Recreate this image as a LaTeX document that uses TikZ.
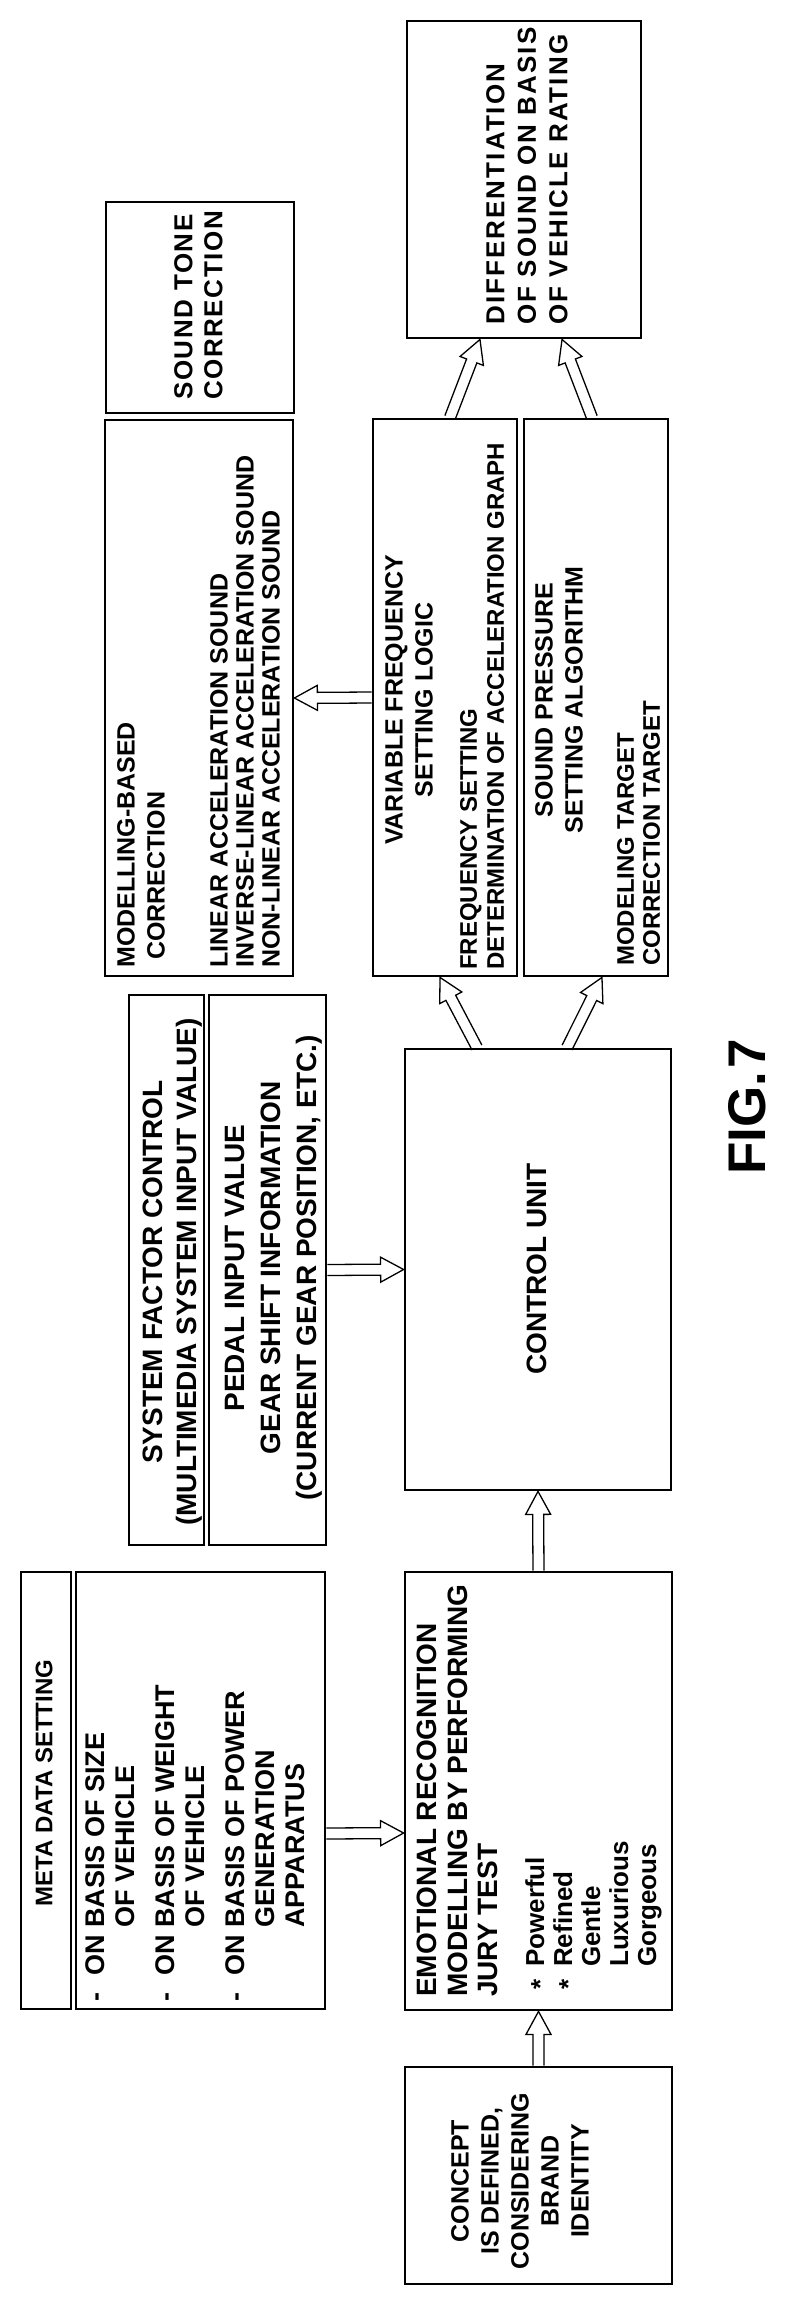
\documentclass[tikz,border=0pt]{standalone}
\usepackage{fontspec}
\setmainfont{Liberation Sans}
\newfontfamily\spA{Liberation Sans}[LetterSpace=8]
\newfontfamily\spB{Liberation Sans}[LetterSpace=6]
\usetikzlibrary{calc}
\newcommand\fs[2]{\fontsize{#1pt}{#2pt}\selectfont\bfseries}
\newcommand\harrow[2]{%
  \path let \p1=($(#2)-(#1)$), \n1={atan2(\y1,\x1)}, \n2={veclen(\x1,\y1)} in
    \pgfextra{\xdef\hang{\n1}\xdef\hlen{\n2}};
  \begin{scope}[shift={(#1)}, rotate=\hang, x=1pt, y=1pt]
    \draw[arr] (0,-5.5) -- (\hlen-23,-5.5) -- (\hlen-23,-12.5) -- (\hlen,0)
      -- (\hlen-23,12.5) -- (\hlen-23,5.5) -- (0,5.5);
  \end{scope}}
\begin{document}
\begin{tikzpicture}[x=1pt,y=-1pt,
  box/.style={draw, line width=2.8pt, inner sep=0pt},
  arr/.style={line width=1.3pt, line join=miter},
  txt/.style={rotate=90, inner sep=0pt, align=left, anchor=north west},
  ctxt/.style={rotate=90, inner sep=0pt, align=center}]
\useasboundingbox (0,0) rectangle (786,2306);
% boxes
\node[box, minimum width=234pt, minimum height=317pt] (diff) at (524,179.5) {};
\node[box, minimum width=188pt, minimum height=211pt] (tone) at (200,307.5) {};
\node[box, minimum width=188pt, minimum height=556pt] (model) at (199,698) {};
\node[box, minimum width=144pt, minimum height=557pt] (vf) at (445,697.5) {};
\node[box, minimum width=144pt, minimum height=557pt] (sp) at (596,697.5) {};
\node[box, minimum width=75pt, minimum height=550pt] (sys) at (166.5,1270) {};
\node[box, minimum width=117pt, minimum height=550pt] (pedal) at (267.5,1270) {};
\node[box, minimum width=266pt, minimum height=441pt] (ctrl) at (538,1269.5) {};
\node[box, minimum width=50pt, minimum height=437pt] (metah) at (46,1790.5) {};
\node[box, minimum width=249pt, minimum height=437pt] (metac) at (200.5,1790.5) {};
\node[box, minimum width=267pt, minimum height=438pt] (emo) at (538.5,1791) {};
\node[box, minimum width=267pt, minimum height=217pt] (concept) at (538.5,2175.5) {};
% texts
\node[txt, font=\spA\fs{26}{31.5}] (tdiff) at (486,325) {DIFFERENTIATION\\OF SOUND ON BASIS\\OF VEHICLE RATING};
\node[txt, font=\spB\fs{26}{30}] (ttone) at (174,400) {SOUND TONE\\CORRECTION};
\node[txt, font=\fs{25}{26}] (tmodel) at (117,968) {MODELLING-BASED\\[4pt]\hspace*{8pt}CORRECTION\\[37pt]LINEAR ACCELERATION SOUND\\INVERSE-LINEAR ACCELERATION SOUND\\NON-LINEAR ACCELERATION SOUND};
\node[ctxt, anchor=north, font=\fs{25}{30}] (tvf) at (385,700) {VARIABLE FREQUENCY\\SETTING LOGIC};
\node[txt, font=\fs{24}{27}] (tvf2) at (460,970) {FREQUENCY SETTING\\DETERMINATION OF ACCELERATION GRAPH};
\node[ctxt, anchor=north, font=\fs{25}{30}] (tsp) at (535,700) {SOUND PRESSURE\\SETTING ALGORITHM};
\node[txt, font=\fs{24}{26}] (tsp2) at (617,966) {MODELING TARGET\\CORRECTION TARGET};
\node[ctxt, anchor=north, font=\fs{28}{34}] (tsys) at (143,1272) {SYSTEM FACTOR CONTROL\\(MULTIMEDIA SYSTEM INPUT VALUE)};
\node[ctxt, anchor=north, font=\fs{28}{36}] (tpedal) at (225,1268) {PEDAL INPUT VALUE\\GEAR SHIFT INFORMATION\\(CURRENT GEAR POSITION, ETC.)};
\node[ctxt, font=\fs{24}{28}] (tmetah) at (44,1783) {META DATA SETTING};
\node[txt, font=\fs{27}{30}] (tmetac) at (85,2002) {\makebox[26pt][l]{-}ON BASIS OF SIZE\\\hspace*{26pt}\phantom{ON }OF VEHICLE\\[10pt]
\makebox[26pt][l]{-}ON BASIS OF WEIGHT\\\hspace*{26pt}\phantom{ON }OF VEHICLE\\[10pt]
\makebox[26pt][l]{-}ON BASIS OF POWER\\\hspace*{26pt}\phantom{ON }GENERATION\\\hspace*{26pt}\phantom{ON }APPARATUS};
\node[txt, font=\fs{28}{30.5}] (temo) at (417,1997) {EMOTIONAL RECOGNITION\\MODELLING BY PERFORMING\\JURY TEST};
\node[txt, font=\fs{26}{28}] (temo2) at (525,1990) {\makebox[23pt][l]{\raisebox{-5pt}{*}}Powerful\\\makebox[23pt][l]{\raisebox{-5pt}{*}}Refined\\\hspace*{23pt}Gentle\\\hspace*{23pt}Luxurious\\\hspace*{23pt}Gorgeous};
\node[ctxt, font=\fs{25}{30}] (tconcept) at (520,2181) {CONCEPT\\IS DEFINED,\\CONSIDERING\\BRAND\\IDENTITY};
\node[ctxt, font=\fs{28}{30}] (tctrl) at (537,1269) {CONTROL UNIT};
\node[ctxt, font=\fs{53}{60}] (fig) at (747,1107) {FIG.\kern3pt 7};
% connector end points
\coordinate (a1) at ($(metac.east)+(0,43)$);
\coordinate (b1) at ($(emo.west)+(0,42)$);
\coordinate (a2) at ($(ctrl.north)+(-61,0)$);
\coordinate (b2) at ($(vf.south)+(-5,0)$);
\coordinate (a3) at ($(ctrl.north)+(29,0)$);
\coordinate (b3) at ($(sp.south)+(6,0)$);
\coordinate (a4) at ($(vf.north)+(5,0)$);
\coordinate (b4) at ($(diff.south)+(-44,0)$);
\coordinate (a5) at ($(sp.north)+(-4,0)$);
\coordinate (b5) at ($(diff.south)+(38,0)$);
% arrows
\harrow{concept.north}{emo.south}
\harrow{emo.north}{ctrl.south}
\harrow{a1}{b1}
\harrow{pedal.east}{ctrl.west}
\harrow{a2}{b2}
\harrow{a3}{b3}
\harrow{vf.west}{model.east}
\harrow{a4}{b4}
\harrow{a5}{b5}
\end{tikzpicture}
\end{document}
